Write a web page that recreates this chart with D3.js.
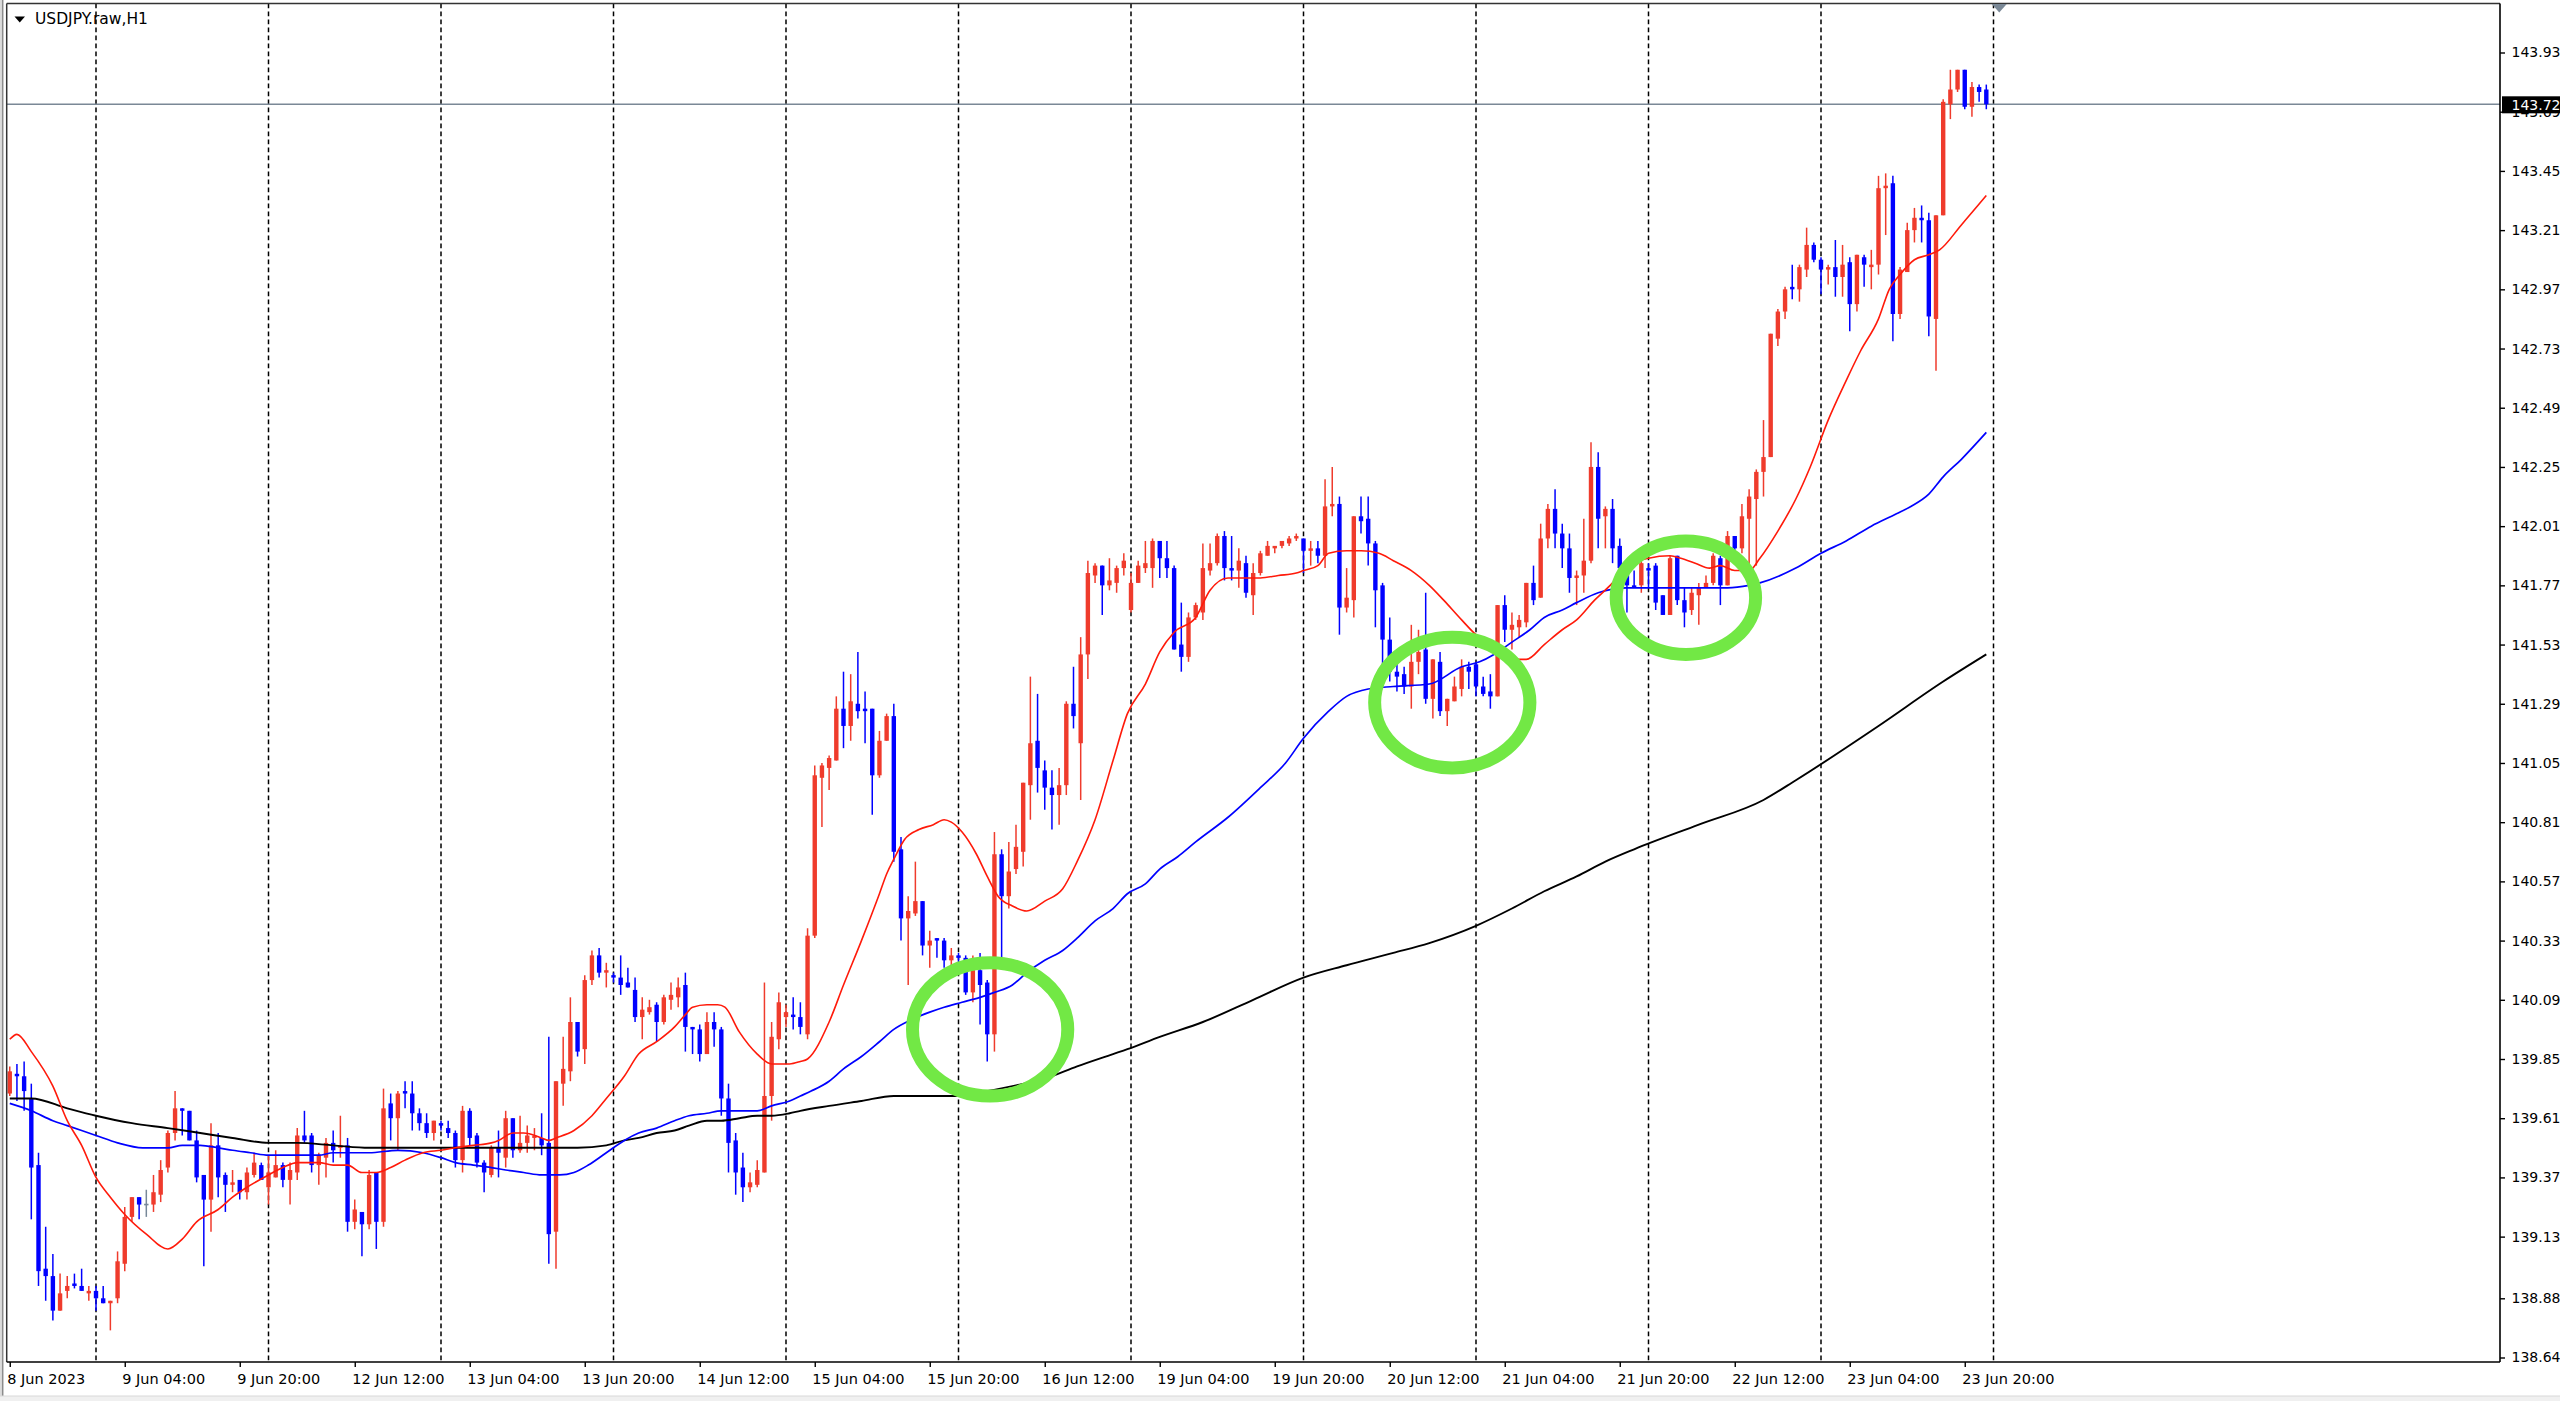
<!DOCTYPE html>
<html>
<head>
<meta charset="utf-8">
<script src="https://cdn.jsdelivr.net/npm/d3@7"></script>
<style>
  body { margin: 0; background: #fff; }
  svg { display: block; }
</style>
</head>
<body>
<div id="chart"></div>
<script>
// USDJPY H1, 8 Jun 2023 12:00 .. 23 Jun 2023 23:00 (276 bars)
const opens = [
  139.71,139.79,139.78,139.69,139.42,139.00,138.97,138.83,138.91,138.94,
  138.93,138.90,138.91,138.88,138.86,138.88,139.02,139.21,139.29,139.26,
  139.26,139.30,139.41,139.55,139.65,139.64,139.52,139.38,139.28,139.50,
  139.38,139.34,139.36,139.31,139.38,139.42,139.33,139.37,139.42,139.36,
  139.39,139.54,139.54,139.42,139.45,139.51,139.49,139.50,139.19,139.23,
  139.18,139.39,139.19,139.67,139.61,139.72,139.71,139.63,139.59,139.55,
  139.59,139.57,139.55,139.44,139.64,139.54,139.43,139.38,139.49,139.45,
  139.61,139.48,139.51,139.53,139.53,139.51,139.15,139.75,139.80,140.00,
  139.89,140.17,140.27,140.20,140.19,140.18,140.16,140.13,140.02,140.04,
  140.07,140.00,140.09,140.10,140.15,139.98,139.97,139.87,140.00,139.97,
  139.69,139.52,139.41,139.33,139.34,139.39,139.70,139.93,140.02,140.03,
  140.02,139.95,140.35,140.99,141.03,141.06,141.27,141.20,141.29,141.27,
  141.27,141.00,141.14,141.24,140.70,140.42,140.44,140.49,140.31,140.34,
  140.33,140.25,140.27,140.26,140.12,140.21,140.16,139.95,140.68,140.51,
  140.62,140.69,140.96,141.14,141.02,140.95,140.92,140.96,141.29,141.13,
  141.49,141.81,141.85,141.77,141.78,141.84,141.67,141.78,141.84,141.84,
  141.95,141.88,141.84,141.53,141.48,141.64,141.66,141.83,141.86,141.97,
  141.84,141.83,141.86,141.73,141.82,141.89,141.92,141.93,141.94,141.96,
  141.96,141.91,141.92,141.89,142.09,142.10,141.68,141.71,142.05,142.04,
  141.94,141.77,141.55,141.42,141.41,141.36,141.46,141.51,141.31,141.46,
  141.26,141.30,141.35,141.44,141.45,141.36,141.34,141.32,141.69,141.59,
  141.60,141.62,141.78,141.72,141.96,142.08,141.98,141.92,141.80,141.81,
  141.87,142.25,142.05,142.08,141.93,141.84,141.77,141.77,141.84,141.85,
  141.73,141.65,141.89,141.71,141.67,141.73,141.76,141.78,141.88,141.77,
  141.97,141.92,142.04,142.12,142.23,142.29,142.77,142.88,142.98,142.97,
  143.05,143.15,143.09,143.05,143.06,143.02,143.08,142.91,143.10,143.06,
  143.07,143.38,143.40,142.87,143.04,143.21,143.26,143.25,142.85,143.27,
  143.72,143.78,143.86,143.71,143.79,143.78
];
const highs = [
  139.82,139.83,139.84,139.75,139.47,139.17,139.06,138.98,138.97,138.98,
  139.00,138.93,138.93,138.93,138.87,139.07,139.25,139.29,139.29,139.32,
  139.38,139.44,139.56,139.72,139.65,139.64,139.56,139.38,139.59,139.55,
  139.39,139.40,139.36,139.41,139.47,139.43,139.46,139.48,139.43,139.43,
  139.57,139.64,139.55,139.47,139.53,139.56,139.62,139.53,139.28,139.23,
  139.40,139.39,139.73,139.71,139.72,139.76,139.76,139.65,139.63,139.60,
  139.60,139.60,139.56,139.66,139.65,139.55,139.44,139.50,139.56,139.64,
  139.61,139.62,139.58,139.57,139.63,139.94,139.76,139.94,140.10,140.00,
  140.19,140.29,140.30,140.24,140.20,140.27,140.22,140.18,140.10,140.09,
  140.08,140.11,140.16,140.18,140.20,139.98,139.99,140.04,140.04,139.98,
  139.75,139.55,139.47,139.39,139.44,140.16,140.00,140.12,140.07,140.10,
  140.08,140.38,141.04,141.05,141.08,141.32,141.42,141.41,141.50,141.34,
  141.27,141.18,141.25,141.29,140.75,140.51,140.65,140.49,140.37,140.34,
  140.34,140.30,140.28,140.27,140.27,140.28,140.17,140.77,140.70,140.73,
  140.80,140.97,141.40,141.33,141.06,141.02,141.03,141.30,141.44,141.56,
  141.87,141.86,141.85,141.88,141.85,141.90,141.82,141.87,141.95,141.96,
  141.95,141.95,141.85,141.70,141.66,141.70,141.94,141.94,141.98,141.99,
  141.97,141.92,141.89,141.86,141.91,141.95,141.93,141.95,141.97,141.98,
  141.96,141.95,141.95,142.20,142.25,142.13,141.84,142.05,142.13,142.13,
  141.95,141.78,141.64,141.50,141.44,141.61,141.59,141.74,141.47,141.50,
  141.31,141.40,141.47,141.46,141.46,141.40,141.41,141.69,141.73,141.66,
  141.65,141.78,141.85,142.02,142.10,142.16,142.02,141.98,141.83,142.04,
  142.35,142.31,142.09,142.12,141.96,141.85,141.83,141.87,141.86,141.86,
  141.73,141.89,141.89,141.76,141.76,141.78,141.81,141.90,141.89,141.99,
  141.97,142.10,142.16,142.24,142.44,142.79,142.89,142.98,143.07,143.07,
  143.22,143.16,143.10,143.07,143.17,143.15,143.10,143.11,143.11,143.13,
  143.43,143.44,143.43,143.06,143.24,143.30,143.31,143.28,143.27,143.74,
  143.86,143.86,143.86,143.81,143.80,143.80
];
const lows = [
  139.70,139.68,139.64,139.20,138.93,138.87,138.79,138.83,138.88,138.92,
  138.91,138.87,138.83,138.86,138.75,138.86,138.99,139.19,139.20,139.21,
  139.23,139.27,139.39,139.52,139.54,139.52,139.35,139.01,139.15,139.29,
  139.23,139.31,139.28,139.28,139.37,139.36,139.26,139.37,139.33,139.26,
  139.36,139.51,139.39,139.34,139.37,139.43,139.45,139.15,139.16,139.05,
  139.16,139.08,139.17,139.52,139.48,139.65,139.56,139.56,139.53,139.52,
  139.56,139.53,139.41,139.39,139.50,139.41,139.31,139.37,139.37,139.41,
  139.45,139.47,139.47,139.48,139.46,139.02,139.00,139.66,139.76,139.86,
  139.83,140.15,140.18,140.14,140.16,140.11,140.14,140.00,139.93,140.03,
  139.92,139.99,140.05,140.06,139.88,139.87,139.84,139.87,139.90,139.62,
  139.39,139.30,139.27,139.31,139.33,139.39,139.60,139.89,139.98,139.97,
  139.95,139.93,140.34,140.79,140.94,141.06,141.11,141.14,141.23,141.13,
  140.84,140.99,141.14,140.65,140.33,140.15,140.43,140.27,140.22,140.26,
  140.22,140.22,140.24,140.11,140.08,139.99,139.84,139.88,140.26,140.46,
  140.60,140.63,140.82,140.93,140.86,140.78,140.80,140.92,141.19,140.90,
  141.39,141.78,141.65,141.75,141.74,141.81,141.66,141.78,141.82,141.76,
  141.80,141.80,141.51,141.42,141.46,141.63,141.63,141.81,141.85,141.79,
  141.79,141.76,141.72,141.65,141.81,141.89,141.90,141.92,141.93,141.95,
  141.82,141.85,141.86,141.84,142.05,141.57,141.66,141.64,141.98,141.85,
  141.60,141.45,141.38,141.34,141.33,141.27,141.41,141.29,141.23,141.24,
  141.20,141.30,141.32,141.35,141.32,141.32,141.27,141.32,141.54,141.51,
  141.56,141.60,141.69,141.72,141.92,141.92,141.84,141.74,141.69,141.74,
  141.86,141.92,141.92,141.86,141.84,141.66,141.76,141.74,141.76,141.67,
  141.65,141.65,141.69,141.60,141.65,141.61,141.76,141.77,141.69,141.77,
  141.91,141.90,141.85,141.85,142.13,142.29,142.74,142.85,142.93,142.92,
  143.02,143.08,142.95,142.99,142.94,142.94,142.80,142.88,142.98,142.97,
  143.03,143.19,142.76,142.85,143.04,143.16,143.16,142.78,142.64,143.27,
  143.66,143.77,143.70,143.67,143.73,143.70
];
const closes = [
  139.80,139.78,139.72,139.41,138.99,138.97,138.83,138.90,138.93,138.93,
  138.91,138.91,138.88,138.86,138.87,139.03,139.21,139.29,139.26,139.26,
  139.31,139.40,139.55,139.65,139.64,139.52,139.37,139.28,139.50,139.37,
  139.34,139.35,139.31,139.39,139.43,139.36,139.39,139.42,139.36,139.40,
  139.54,139.52,139.42,139.46,139.51,139.48,139.50,139.19,139.24,139.18,
  139.38,139.19,139.65,139.61,139.71,139.71,139.63,139.59,139.55,139.60,
  139.58,139.55,139.44,139.64,139.53,139.43,139.39,139.49,139.47,139.61,
  139.48,139.51,139.54,139.54,139.50,139.14,139.76,139.81,140.00,139.88,
  140.17,140.27,140.20,140.21,140.18,140.15,140.14,140.02,140.05,140.06,
  140.00,140.10,140.11,140.14,139.98,139.97,139.87,140.00,139.97,139.69,
  139.51,139.39,139.33,139.35,139.40,139.70,139.94,140.08,140.04,140.02,
  139.98,140.35,141.00,141.04,141.07,141.27,141.20,141.30,141.26,141.26,
  141.00,141.14,141.24,140.69,140.42,140.45,140.49,140.31,140.33,140.33,
  140.25,140.27,140.26,140.12,140.21,140.15,139.95,140.68,140.51,140.61,
  140.71,140.97,141.13,141.03,140.95,140.92,140.96,141.29,141.24,141.49,
  141.82,141.85,141.77,141.79,141.84,141.87,141.78,141.85,141.86,141.95,
  141.88,141.84,141.51,141.48,141.64,141.69,141.84,141.86,141.97,141.84,
  141.83,141.87,141.74,141.82,141.90,141.93,141.93,141.95,141.96,141.97,
  141.91,141.92,141.89,142.09,142.10,141.68,141.72,142.05,142.03,141.94,
  141.75,141.55,141.42,141.40,141.36,141.46,141.50,141.31,141.47,141.26,
  141.31,141.36,141.44,141.42,141.36,141.33,141.32,141.69,141.59,141.61,
  141.63,141.78,141.71,141.96,142.08,141.98,141.92,141.80,141.81,141.87,
  142.25,142.04,142.08,141.92,141.84,141.77,141.76,141.86,141.83,141.70,
  141.65,141.88,141.71,141.66,141.74,141.76,141.78,141.89,141.77,141.97,
  141.92,142.05,142.13,142.23,142.29,142.79,142.88,142.97,142.97,143.06,
  143.15,143.09,143.05,143.06,143.02,143.07,142.91,143.11,143.07,143.07,
  143.38,143.39,142.87,143.05,143.21,143.26,143.25,142.86,143.27,143.73,
  143.78,143.86,143.71,143.79,143.77,143.72
];

// moving averages as [bar, price]
const redMA = [
  [0,139.93],[1,139.95],[3,139.88],[6,139.74],[8,139.60],[10,139.50],[12,139.37],[14,139.29],
  [16,139.22],[19,139.14],[22,139.08],[24,139.12],[26,139.19],[29,139.24],[31,139.29],[33,139.33],
  [36,139.38],[38,139.41],[40,139.43],[43,139.43],[45,139.42],[47,139.42],[49,139.39],[51,139.39],
  [53,139.41],[55,139.44],[57.5,139.47],[60,139.48],[62,139.49],[64.5,139.50],[67,139.51],[68,139.52],
  [70,139.55],[71.5,139.55],[74,139.53],[75,139.52],[76,139.53],[78.5,139.56],[81,139.62],[83,139.69],
  [85.5,139.78],[87.5,139.87],[90,139.92],[92.5,139.98],[94,140.03],[95,140.06],[97,140.07],[98.5,140.07],
  [99.5,140.06],[101.5,139.96],[104,139.87],[106,139.83],[108.5,139.83],[110,139.84],[111,139.85],[114,140.00],
  [116,140.15],[118.5,140.33],[121,140.52],[122,140.60],[123,140.66],[124.5,140.74],[126.5,140.78],[128.5,140.80],
  [130,140.82],[131,140.81],[132.5,140.77],[134.5,140.68],[136,140.59],[137.5,140.51],[139.5,140.47],[141.5,140.45],
  [144,140.49],[146.5,140.54],[148.5,140.65],[151,140.82],[153.5,141.06],[155.5,141.25],[158,141.37],[160,141.50],
  [162,141.58],[165,141.64],[167,141.75],[169.5,141.80],[174,141.80],[176.5,141.81],[179,141.82],[180,141.83],
  [182,141.85],[183.5,141.90],[186,141.91],[188,141.91],[190.5,141.90],[192.5,141.87],[195,141.83],[197.5,141.77],
  [199.5,141.71],[202,141.63],[204,141.57],[205.5,141.54],[206.5,141.50],[209,141.47],[211,141.47],[213.5,141.53],
  [216,141.59],[218,141.63],[220.5,141.71],[223,141.78],[225,141.85],[228,141.88],[231,141.89],[232.5,141.88],
  [234.5,141.86],[236.5,141.84],[238,141.85],[240,141.83],[242,141.83],[243.5,141.88],[246,141.99],[248.5,142.12],
  [250.5,142.25],[253,142.44],[255.5,142.60],[257.5,142.72],[260,142.85],[261.5,142.97],[263,143.03],[265,143.09],
  [267,143.11],[268.5,143.13],[271.5,143.23],[275,143.35]
];
const blueMA = [
  [0,139.67],[3,139.64],[6,139.60],[8,139.58],[12,139.54],[15,139.51],[18.5,139.49],[22,139.49],
  [24,139.50],[26.5,139.50],[29,139.49],[31,139.48],[33.5,139.47],[36,139.46],[40,139.46],[43,139.46],
  [45,139.47],[50,139.47],[54,139.48],[57.5,139.47],[60,139.45],[62,139.43],[64.5,139.42],[67,139.41],
  [69,139.40],[71.5,139.39],[74,139.38],[76.5,139.38],[78.5,139.39],[80.5,139.42],[83,139.47],[85.5,139.52],
  [87.5,139.55],[90,139.57],[92.5,139.60],[94.5,139.62],[97,139.63],[99,139.64],[104,139.64],[106,139.66],
  [108.5,139.68],[110,139.70],[111.5,139.72],[114,139.76],[116,139.81],[118.5,139.86],[121,139.92],[123,139.97],
  [125.5,140.01],[128,140.04],[130,140.06],[132.5,140.08],[135,140.10],[137,140.12],[139.5,140.15],[141.5,140.20],
  [144,140.25],[146.5,140.29],[148.5,140.34],[151,140.41],[153.5,140.46],[155.5,140.52],[158,140.56],[160,140.62],
  [162.5,140.67],[165,140.73],[169.5,140.83],[174,140.95],[177.5,141.05],[180,141.15],[183.5,141.26],[186,141.32],
  [189,141.35],[192.5,141.36],[197.5,141.37],[202,141.44],[204.5,141.46],[206.5,141.49],[209,141.54],[211.5,141.59],
  [213.5,141.64],[216,141.67],[218,141.70],[221,141.74],[225,141.76],[230,141.76],[234.5,141.76],[239,141.76],
  [242,141.77],[243.5,141.78],[248.5,141.84],[252,141.90],[255.5,141.95],[259,142.01],[262.5,142.06],[264.5,142.09],
  [267,142.14],[269,142.21],[271.5,142.28],[275,142.39]
];
const blackMA = [
  [0,139.69],[3,139.69],[8,139.65],[12,139.62],[17,139.59],[22,139.57],[26.5,139.55],[31,139.53],
  [36,139.51],[40,139.51],[45,139.50],[50,139.49],[54,139.49],[76,139.49],[79,139.49],[83,139.50],
  [85.5,139.52],[87.5,139.53],[90,139.55],[92.5,139.56],[94.5,139.58],[97,139.60],[99,139.60],[101.5,139.61],
  [104,139.62],[106,139.62],[108.5,139.63],[110,139.64],[114,139.66],[118.5,139.68],[123,139.70],[131,139.70],
  [135,139.715],[139.5,139.74],[144,139.77],[148.5,139.82],[153.5,139.87],[155.5,139.89],[160,139.94],[166,140.00],
  [173,140.09],[180,140.18],[186,140.23],[192.5,140.28],[197.5,140.32],[204,140.39],[209,140.46],[213.5,140.53],
  [218,140.59],[222,140.65],[226,140.70],[235,140.80],[244,140.90],[248.5,140.98],[260,141.20],[269,141.38],
  [275,141.49]
];

// time axis: a label every 16 bars, day separators at each midnight
const tickBars = [0,16,32,48,64,80,96,112,128,144,160,176,192,208,224,240,256,272];
const tickLabels = ["8 Jun 2023","9 Jun 04:00","9 Jun 20:00","12 Jun 12:00","13 Jun 04:00","13 Jun 20:00",
  "14 Jun 12:00","15 Jun 04:00","15 Jun 20:00","16 Jun 12:00","19 Jun 04:00","19 Jun 20:00",
  "20 Jun 12:00","21 Jun 04:00","21 Jun 20:00","22 Jun 12:00","23 Jun 04:00","23 Jun 20:00"];
const daySeparators = [12,36,60,84,108,132,156,180,204,228,252,276];

const priceTicks = [143.93,143.69,143.45,143.21,142.97,142.73,142.49,142.25,142.01,141.77,141.53,141.29,
  141.05,140.81,140.57,140.33,140.09,139.85,139.61,139.37,139.13,138.88,138.64];
const lastPrice = 143.72;

// highlighted zones (green rings): bar span and price span
const zoneFrom = [125.6, 189.9, 223.5];
const zoneTo = [147.2, 211.5, 242.9];
const zoneLow = [139.70, 141.03, 141.49];
const zoneHigh = [140.24, 141.56, 141.95];

const W = 2560, H = 1401;
const plotRight = 2500, plotTop = 3.5, plotBottom = 1362, plotLeft = 6.7;
const font = "'DejaVu Sans', Verdana, sans-serif";
const upColor = "#ef3b2c", downColor = "#0000ff", dojiColor = "#778899";
const bodyW = 4.4;

const x = d3.scaleLinear().domain([0, 276]).range([9.75, 9.75 + 276 * 7.1875]);
const y = d3.scaleLinear().domain([138.64, 143.93]).range([1357.5, 52.5]);

const svg = d3.select("#chart").append("svg")
    .attr("width", W)
    .attr("height", H)
    .attr("viewBox", `0 0 ${W} ${H}`);

svg.append("rect").attr("width", W).attr("height", H).attr("fill", "#fff");

// window edges
svg.append("rect").attr("x", 0).attr("y", 0).attr("width", 2).attr("height", H).attr("fill", "#dcdcdc");
svg.append("line").attr("x1", 2.7).attr("x2", 2.7).attr("y1", 0).attr("y2", H)
    .attr("stroke", "#8c8c8c").attr("stroke-width", 1.5);
svg.append("rect").attr("x", 0).attr("y", H - 5).attr("width", W).attr("height", 5).attr("fill", "#f0f0f0");
svg.append("line").attr("x1", 0).attr("x2", W).attr("y1", H - 5).attr("y2", H - 5)
    .attr("stroke", "#d8d8d8").attr("stroke-width", 1);

// day separators
svg.selectAll(".sep")
    .data(daySeparators)
    .enter()
    .append("line")
    .attr("class", "sep")
    .attr("x1", d => x(d))
    .attr("x2", d => x(d))
    .attr("y1", plotTop)
    .attr("y2", plotBottom)
    .attr("stroke", "#000")
    .attr("stroke-width", 1.5)
    .attr("stroke-dasharray", "4.8,3.2");

// current price line
svg.append("line")
    .attr("x1", plotLeft)
    .attr("x2", plotRight)
    .attr("y1", y(lastPrice))
    .attr("y2", y(lastPrice))
    .attr("stroke", "#7a8896")
    .attr("stroke-width", 1.6);

// candles
const bars = d3.range(opens.length).map(i => ({ i, o: opens[i], h: highs[i], l: lows[i], c: closes[i] }));
const colorOf = d => d.c > d.o ? upColor : (d.c < d.o ? downColor : dojiColor);

const candles = svg.append("g");
candles.selectAll(".wick")
    .data(bars)
    .enter()
    .append("line")
    .attr("class", "wick")
    .attr("x1", d => x(d.i))
    .attr("x2", d => x(d.i))
    .attr("y1", d => y(d.h))
    .attr("y2", d => y(d.l))
    .attr("stroke", colorOf)
    .attr("stroke-width", 1.5);

candles.selectAll(".body")
    .data(bars)
    .enter()
    .append("rect")
    .attr("class", "body")
    .attr("x", d => x(d.i) - bodyW / 2)
    .attr("width", bodyW)
    .attr("y", d => y(Math.max(d.o, d.c)) - (d.o === d.c ? 0.8 : 0))
    .attr("height", d => Math.max(1.6, Math.abs(y(d.o) - y(d.c))))
    .attr("fill", colorOf);

// moving averages
const maLine = d3.line()
    .x(d => x(d[0]))
    .y(d => y(d[1]))
    .curve(d3.curveMonotoneX);

[[blackMA, "#000", 1.9], [blueMA, "#0000ff", 1.7], [redMA, "#ff1a0a", 1.6]].forEach(([data, color, w]) => {
    svg.append("path")
        .datum(data)
        .attr("d", maLine)
        .attr("fill", "none")
        .attr("stroke", color)
        .attr("stroke-width", w)
        .attr("stroke-linejoin", "round");
});

// green rings
svg.selectAll(".zone")
    .data(d3.range(zoneFrom.length))
    .enter()
    .append("ellipse")
    .attr("class", "zone")
    .attr("cx", i => (x(zoneFrom[i]) + x(zoneTo[i])) / 2)
    .attr("cy", i => (y(zoneLow[i]) + y(zoneHigh[i])) / 2)
    .attr("rx", i => (x(zoneTo[i]) - x(zoneFrom[i])) / 2)
    .attr("ry", i => (y(zoneLow[i]) - y(zoneHigh[i])) / 2)
    .attr("fill", "none")
    .attr("stroke", "#72e845")
    .attr("stroke-width", 13);

// frame
svg.append("line").attr("x1", plotLeft).attr("x2", plotRight).attr("y1", plotTop).attr("y2", plotTop)
    .attr("stroke", "#333").attr("stroke-width", 1.6);
svg.append("line").attr("x1", plotLeft).attr("x2", plotLeft).attr("y1", plotTop).attr("y2", plotBottom)
    .attr("stroke", "#333").attr("stroke-width", 1.5);
svg.append("line").attr("x1", plotRight).attr("x2", plotRight).attr("y1", plotTop).attr("y2", plotBottom)
    .attr("stroke", "#000").attr("stroke-width", 1.6);
svg.append("line").attr("x1", plotLeft).attr("x2", plotRight).attr("y1", plotBottom).attr("y2", plotBottom)
    .attr("stroke", "#000").attr("stroke-width", 1.6);

// chart shift marker
const shiftX = x(276.8);
svg.append("path")
    .attr("d", `M${shiftX - 7.5},${plotTop + 0.5} L${shiftX + 7.5},${plotTop + 0.5} L${shiftX},${plotTop + 9} Z`)
    .attr("fill", "#7a8896");

// price axis
const yAxis = svg.append("g")
    .attr("transform", `translate(${plotRight},0)`)
    .call(d3.axisRight(y).tickValues(priceTicks).tickFormat(d3.format(".2f")).tickSize(5).tickPadding(6.5));
yAxis.select(".domain").remove();
yAxis.selectAll(".tick line").attr("stroke", "#000").attr("stroke-width", 1.4);
yAxis.selectAll(".tick text")
    .attr("font-family", font)
    .attr("font-size", "14px")
    .attr("fill", "#000");

// current price label
svg.append("rect")
    .attr("x", plotRight + 2)
    .attr("y", y(lastPrice) - 8)
    .attr("width", W - plotRight - 2)
    .attr("height", 17)
    .attr("fill", "#000");
svg.append("text")
    .attr("x", plotRight + 11.5)
    .attr("y", y(lastPrice) + 0.5)
    .attr("dy", "0.35em")
    .attr("font-family", font)
    .attr("font-size", "14px")
    .attr("fill", "#fff")
    .text(lastPrice.toFixed(2));

// time axis
const xAxis = svg.append("g")
    .attr("transform", `translate(0,${plotBottom})`)
    .call(d3.axisBottom(x).tickValues(tickBars).tickFormat((d, i) => tickLabels[i]).tickSize(5).tickPadding(7));
xAxis.select(".domain").remove();
xAxis.selectAll(".tick line").attr("stroke", "#000").attr("stroke-width", 1.4);
xAxis.selectAll(".tick text")
    .attr("text-anchor", "start")
    .attr("x", -3)
    .attr("font-family", font)
    .attr("font-size", "14.5px")
    .attr("fill", "#000");

// symbol title
svg.append("path").attr("d", "M14.5,16.5 L25,16.5 L19.75,22.5 Z").attr("fill", "#000");
svg.append("text")
    .attr("x", 35)
    .attr("y", 24)
    .attr("font-family", font)
    .attr("font-size", "15.5px")
    .attr("fill", "#000")
    .text("USDJPY.raw,H1");
</script>
</body>
</html>
